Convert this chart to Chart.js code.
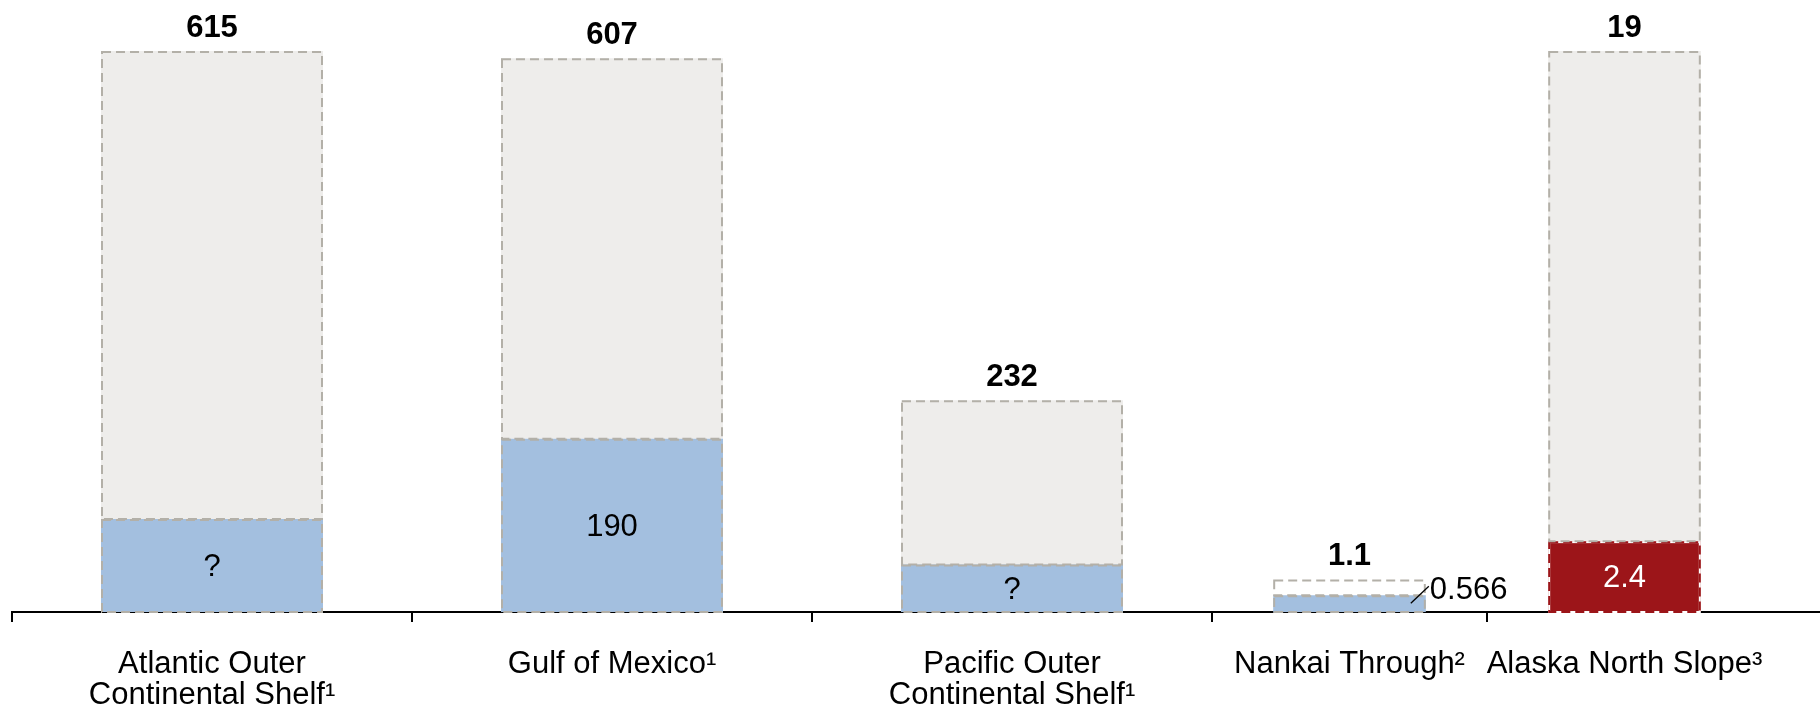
<!DOCTYPE html>
<html>
<head>
<meta charset="utf-8">
<script src="https://cdn.jsdelivr.net/npm/chart.js@4"></script>
<style>
  html,body{margin:0;padding:0;background:#fff;}
  #wrap{position:relative;width:1820px;height:711px;overflow:hidden;}
  canvas{position:absolute;top:0;}
</style>
</head>
<body>
<div id="wrap">
  <canvas id="c1" width="1220" height="711" style="left:0"></canvas>
  <canvas id="c2" width="608" height="711" style="left:1212px"></canvas>
</div>
<script>
'use strict';
// left panel: the three US offshore regions, one common scale
const regionsA = [['Atlantic Outer', 'Continental Shelf¹'], 'Gulf of Mexico¹', ['Pacific Outer', 'Continental Shelf¹']];
const totalsA = [615, 607, 232];
const partA = [102, 190, 52];          // the "?" heights
const partLabelsA = ['?', '190', '?'];

// right panel: own scale
const regionsB = ['Nankai Through²', 'Alaska North Slope³'];
const totalsB = [1.1, 19];
const partB = [0.566, 2.4];
const partLabelsB = ['0.566', '2.4'];

const FONT = '"Liberation Sans", Arial, sans-serif';
const BLUE = '#A3BFDF', RED = '#9C1519', GREY = '#EEEDEB', DASH = '#B3B0A8';

// ─── dashed outlines, total labels above, part labels inside ───
const barDecor = {
  id: 'barDecor',
  afterDatasetsDraw(chart, args, o) {
    const ctx = chart.ctx;
    const partMeta = chart.getDatasetMeta(0), restMeta = chart.getDatasetMeta(1);
    ctx.save();
    [partMeta, restMeta].forEach((meta, di) => {
      meta.data.forEach((el, i) => {
        const {x, y, base, width} = el.getProps(['x', 'y', 'base', 'width'], true);
        const l = x - width / 2, h = base - y;
        const col = chart.data.datasets[di].outline[i];
        ctx.lineWidth = 2;
        if (col !== DASH) { ctx.setLineDash([]); ctx.strokeStyle = '#fff'; ctx.strokeRect(l + 1, y + 1, width - 2, h - 1); }
        ctx.setLineDash([9, 5]);
        ctx.strokeStyle = col;
        ctx.strokeRect(l + 1, y + 1, width - 2, h - 1);
      });
    });
    ctx.setLineDash([]);
    ctx.textAlign = 'center'; ctx.textBaseline = 'middle';
    restMeta.data.forEach((el, i) => {
      ctx.font = 'bold 31px ' + FONT; ctx.fillStyle = '#000';
      ctx.fillText(String(o.totals[i]), el.x, el.y - 23);
    });
    partMeta.data.forEach((el, i) => {
      const {x, y, base, width} = el.getProps(['x', 'y', 'base', 'width'], true);
      ctx.font = '31px ' + FONT;
      if (o.outside && o.outside[i]) {
        const r = x + width / 2;
        ctx.strokeStyle = '#000'; ctx.lineWidth = 1.3;
        ctx.beginPath(); ctx.moveTo(r - 15, y + 8); ctx.lineTo(r + 3, y - 9); ctx.stroke();
        ctx.textAlign = 'left'; ctx.fillStyle = '#000';
        ctx.fillText(o.labels[i], r + 4, y - 5);
        ctx.textAlign = 'center';
      } else {
        ctx.fillStyle = o.labelColors[i];
        ctx.fillText(o.labels[i], x, (y + base) / 2 + 2);
      }
    });
    ctx.restore();
  },
  afterDraw(chart, args, o) {
    if (!o.extendAxis) return;
    const xs = chart.scales.x;
    chart.ctx.fillStyle = '#000';
    chart.ctx.fillRect(chart.chartArea.right, xs.top - 1, chart.width - chart.chartArea.right, 2);
  }
};

function makeChart(id, labels, totals, part, decor, pad, partColors, restColors, tickColor) {
  return new Chart(document.getElementById(id), {
    type: 'bar',
    data: {
      labels,
      datasets: [
        { data: part, backgroundColor: partColors, outline: partColors.map(c => c === RED ? RED : DASH) },
        { data: totals.map((t, i) => t - part[i]), backgroundColor: restColors, outline: restColors.map(() => DASH) }
      ]
    },
    options: {
      responsive: false, animation: false,
      layout: { padding: pad },
      datasets: { bar: { categoryPercentage: 1, barPercentage: 0.555, borderWidth: 0 } },
      plugins: { legend: { display: false }, tooltip: { enabled: false }, barDecor: decor },
      scales: {
        x: {
          stacked: true,
          border: { display: true, color: '#000', width: 2 },
          grid: { display: true, offset: true, drawOnChartArea: false, drawTicks: true, tickLength: 10, tickWidth: 2, lineWidth: 2, color: '#000', tickColor },
          ticks: { color: '#000', font: { family: FONT, size: 31, lineHeight: 1.03 }, padding: 26, maxRotation: 0, autoSkip: false },
          afterFit: s => { s.height = 99; s.paddingLeft = 0; s.paddingRight = 0; }
        },
        y: { stacked: true, display: false, min: 0, max: Math.max(...totals) }
      }
    },
    plugins: [barDecor]
  });
}

makeChart('c1', regionsA, totalsA, partA,
  { totals: totalsA, labels: partLabelsA, labelColors: ['#000', '#000', '#000'] },
  { top: 51, left: 12, right: 8, bottom: 0 },
  [BLUE, BLUE, BLUE], [GREY, GREY, GREY], '#000');

makeChart('c2', regionsB, totalsB, partB,
  { totals: totalsB, labels: partLabelsB, labelColors: ['#000', '#fff'], outside: [true, false], extendAxis: true },
  { top: 51, left: 0, right: 58, bottom: 0 },
  [BLUE, RED], ['#FFFFFF', GREY], c => (c.tick ? '#000' : 'rgba(0,0,0,0)'));
</script>
</body>
</html>
